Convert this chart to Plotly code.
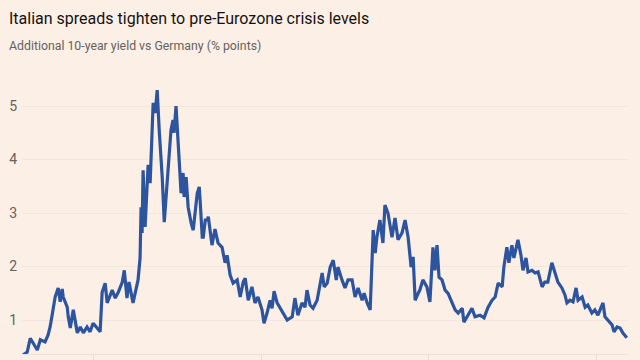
import pandas as pd
import plotly.graph_objects as go

title = "Italian spreads tighten to pre-Eurozone crisis levels"
subtitle = "Additional 10-year yield vs Germany (% points)"

# decimal years and spread (percentage points)
years = [
    2007.92, 2008.04, 2008.13, 2008.28, 2008.34, 2008.43, 2008.57, 2008.66, 2008.72, 2008.78,
    2008.87, 2008.96, 2009.02, 2009.08, 2009.11, 2009.23, 2009.26, 2009.32, 2009.41, 2009.53,
    2009.62, 2009.71, 2009.82, 2009.91, 2010.00, 2010.12, 2010.21, 2010.27, 2010.36, 2010.42,
    2010.57, 2010.66, 2010.75, 2010.87, 2010.93, 2011.01, 2011.07, 2011.19, 2011.28, 2011.34,
    2011.40, 2011.43, 2011.46, 2011.49, 2011.55, 2011.61, 2011.64, 2011.70, 2011.76, 2011.79,
    2011.85, 2011.91, 2011.97, 2012.06, 2012.12, 2012.21, 2012.24, 2012.32, 2012.38, 2012.41,
    2012.47, 2012.50, 2012.56, 2012.62, 2012.68, 2012.71, 2012.77, 2012.83, 2012.92, 2012.98,
    2013.10, 2013.16, 2013.19, 2013.25, 2013.28, 2013.34, 2013.40, 2013.43, 2013.54, 2013.63,
    2013.72, 2013.84, 2013.93, 2013.99, 2014.08, 2014.17, 2014.29, 2014.38, 2014.47, 2014.53,
    2014.62, 2014.73, 2014.82, 2014.91, 2015.03, 2015.09, 2015.18, 2015.27, 2015.33, 2015.39,
    2015.48, 2015.57, 2015.66, 2015.78, 2015.93, 2016.01, 2016.10, 2016.22, 2016.31, 2016.37,
    2016.46, 2016.55, 2016.67, 2016.73, 2016.82, 2016.88, 2016.97, 2017.06, 2017.15, 2017.24,
    2017.29, 2017.41, 2017.50, 2017.59, 2017.71, 2017.80, 2017.89, 2018.01, 2018.07, 2018.16,
    2018.25, 2018.34, 2018.40, 2018.45, 2018.54, 2018.63, 2018.69, 2018.78, 2018.90, 2018.99,
    2019.08, 2019.20, 2019.29, 2019.38, 2019.47, 2019.53, 2019.59, 2019.68, 2019.73, 2019.82,
    2019.94, 2020.03, 2020.12, 2020.18, 2020.24, 2020.30, 2020.39, 2020.48, 2020.57, 2020.69,
    2020.78, 2020.87, 2020.99, 2021.04, 2021.13, 2021.28, 2021.37, 2021.52, 2021.64, 2021.76,
    2021.88, 2021.97, 2022.06, 2022.18, 2022.23, 2022.32, 2022.38, 2022.47, 2022.53, 2022.59,
    2022.65, 2022.74, 2022.80, 2022.89, 2022.95, 2023.07, 2023.16, 2023.25, 2023.37, 2023.45,
    2023.54, 2023.66, 2023.75, 2023.84, 2023.96, 2024.05, 2024.11, 2024.20, 2024.29, 2024.38,
    2024.44, 2024.56, 2024.65, 2024.73, 2024.85, 2024.94, 2025.03, 2025.18, 2025.24, 2025.33,
    2025.45, 2025.51, 2025.60, 2025.69, 2025.77, 2025.89,
]
spread = [
    0.35, 0.40, 0.66, 0.50, 0.44, 0.63, 0.59, 0.72, 0.87, 1.09,
    1.43, 1.60, 1.34, 1.58, 1.43, 1.24, 1.06, 0.85, 1.19, 0.76,
    0.87, 0.76, 0.87, 0.78, 0.94, 0.85, 0.78, 1.52, 1.69, 1.32,
    1.56, 1.41, 1.52, 1.71, 1.93, 1.41, 1.71, 1.32, 1.60, 1.75,
    2.16, 3.11, 2.63, 3.80, 2.74, 3.62, 3.90, 3.56, 4.55, 5.06,
    4.87, 5.30, 4.55, 3.67, 2.83, 3.62, 3.93, 4.55, 4.74, 4.50,
    5.00, 4.68, 4.23, 3.37, 3.75, 3.30, 3.67, 3.11, 2.81, 2.68,
    3.37, 3.49, 3.19, 2.55, 2.55, 2.87, 2.87, 2.93, 2.40, 2.70,
    2.44, 2.36, 2.07, 2.21, 1.84, 1.69, 1.75, 1.43, 1.71, 1.78,
    1.37, 1.62, 1.32, 1.43, 1.19, 0.94, 1.13, 1.37, 1.22, 1.54,
    1.32, 1.22, 1.13, 1.00, 1.06, 1.41, 1.09, 1.32, 1.24, 1.56,
    1.28, 1.22, 1.37, 1.60, 1.88, 1.62, 1.69, 1.99, 2.12, 1.75,
    1.99, 1.75, 1.60, 1.75, 1.75, 1.43, 1.60, 1.37, 1.50, 1.32,
    1.19, 2.68, 2.25, 2.55, 2.87, 2.44, 3.15, 3.00, 2.55, 2.91,
    2.50, 2.63, 2.87, 2.55, 1.99, 2.18, 1.37, 1.50, 1.56, 1.75,
    1.62, 1.34, 2.36, 1.93, 2.40, 1.80, 1.75, 1.56, 1.50, 1.32,
    1.19, 1.13, 1.22, 0.96, 1.06, 1.22, 1.06, 1.09, 1.04, 1.24,
    1.37, 1.43, 1.69, 1.62, 1.99, 2.36, 2.07, 2.40, 2.16, 2.35,
    2.50, 2.21, 1.93, 2.16, 1.90, 1.93, 1.88, 1.90, 1.62, 1.71,
    1.71, 2.07, 1.88, 1.71, 1.60, 1.47, 1.32, 1.37, 1.34, 1.60,
    1.37, 1.43, 1.24, 1.28, 1.13, 1.19, 1.09, 1.32, 1.06, 1.00,
    0.91, 0.78, 0.87, 0.85, 0.76, 0.67,
]

y_ticks = [1, 2, 3, 4, 5]
x_ticks = ["2010-01-01", "2015-01-01", "2020-01-01", "2025-01-01"]
x_range = ["2007-11-20", "2025-12-05"]
y_range = [0.365, 5.6]


def to_date(y):
    yr = int(y)
    start = pd.Timestamp(year=yr, month=1, day=1)
    end = pd.Timestamp(year=yr + 1, month=1, day=1)
    return start + (end - start) * (y - yr)


dates = [to_date(y) for y in years]

BG = "#fcf0e6"
LINE = "#2d549f"
GREY = "#66605c"
GRID = "#f3e6db"
FONT = "Roboto, Arial, sans-serif"

fig = go.Figure()
fig.add_trace(go.Scatter(
    x=dates, y=spread, mode="lines",
    line=dict(color=LINE, width=3.2),
    hoverinfo="skip", showlegend=False,
))

L, R, T, B = 22, 12, 74, 6
W, H = 640 - L - R, 360 - T - B

fig.update_layout(
    width=640, height=360,
    margin=dict(l=L, r=R, t=T, b=B, pad=0, autoexpand=False),
    paper_bgcolor=BG, plot_bgcolor=BG,
    font=dict(family=FONT, color=GREY, size=14),
    xaxis=dict(
        type="date", range=x_range, tickvals=x_ticks, showticklabels=False,
        ticks="outside", ticklen=6, tickcolor="#e8dbd0",
        showgrid=False, zeroline=False,
        showline=True, linecolor="#eee1d6", linewidth=1,
        fixedrange=True, automargin=False,
    ),
    yaxis=dict(
        range=y_range, tickvals=y_ticks, ticktext=[str(v) for v in y_ticks],
        showgrid=True, gridcolor=GRID, gridwidth=1, zeroline=False,
        showline=False, ticks="", ticklabelstandoff=4,
        tickfont=dict(family=FONT, color=GREY, size=14),
        fixedrange=True, automargin=False,
    ),
    annotations=[
        dict(text=title, xref="paper", yref="paper",
             x=(7 - L) / W, y=(360 - B - 18) / H,
             xanchor="left", yanchor="middle", showarrow=False,
             font=dict(family=FONT, size=16, color="#141211")),
        dict(text=subtitle, xref="paper", yref="paper",
             x=(7 - L) / W, y=(360 - B - 46) / H,
             xanchor="left", yanchor="middle", showarrow=False,
             font=dict(family=FONT, size=12.3, color=GREY)),
    ],
)

fig.write_html(
    "out.html",
    config={"displayModeBar": False, "staticPlot": True},
    post_script=(
        "document.body.style.margin='0';"
        "document.body.style.padding='0';"
        "document.body.style.background='" + BG + "';"
        "document.body.style.overflow='hidden';"
    ),
)
